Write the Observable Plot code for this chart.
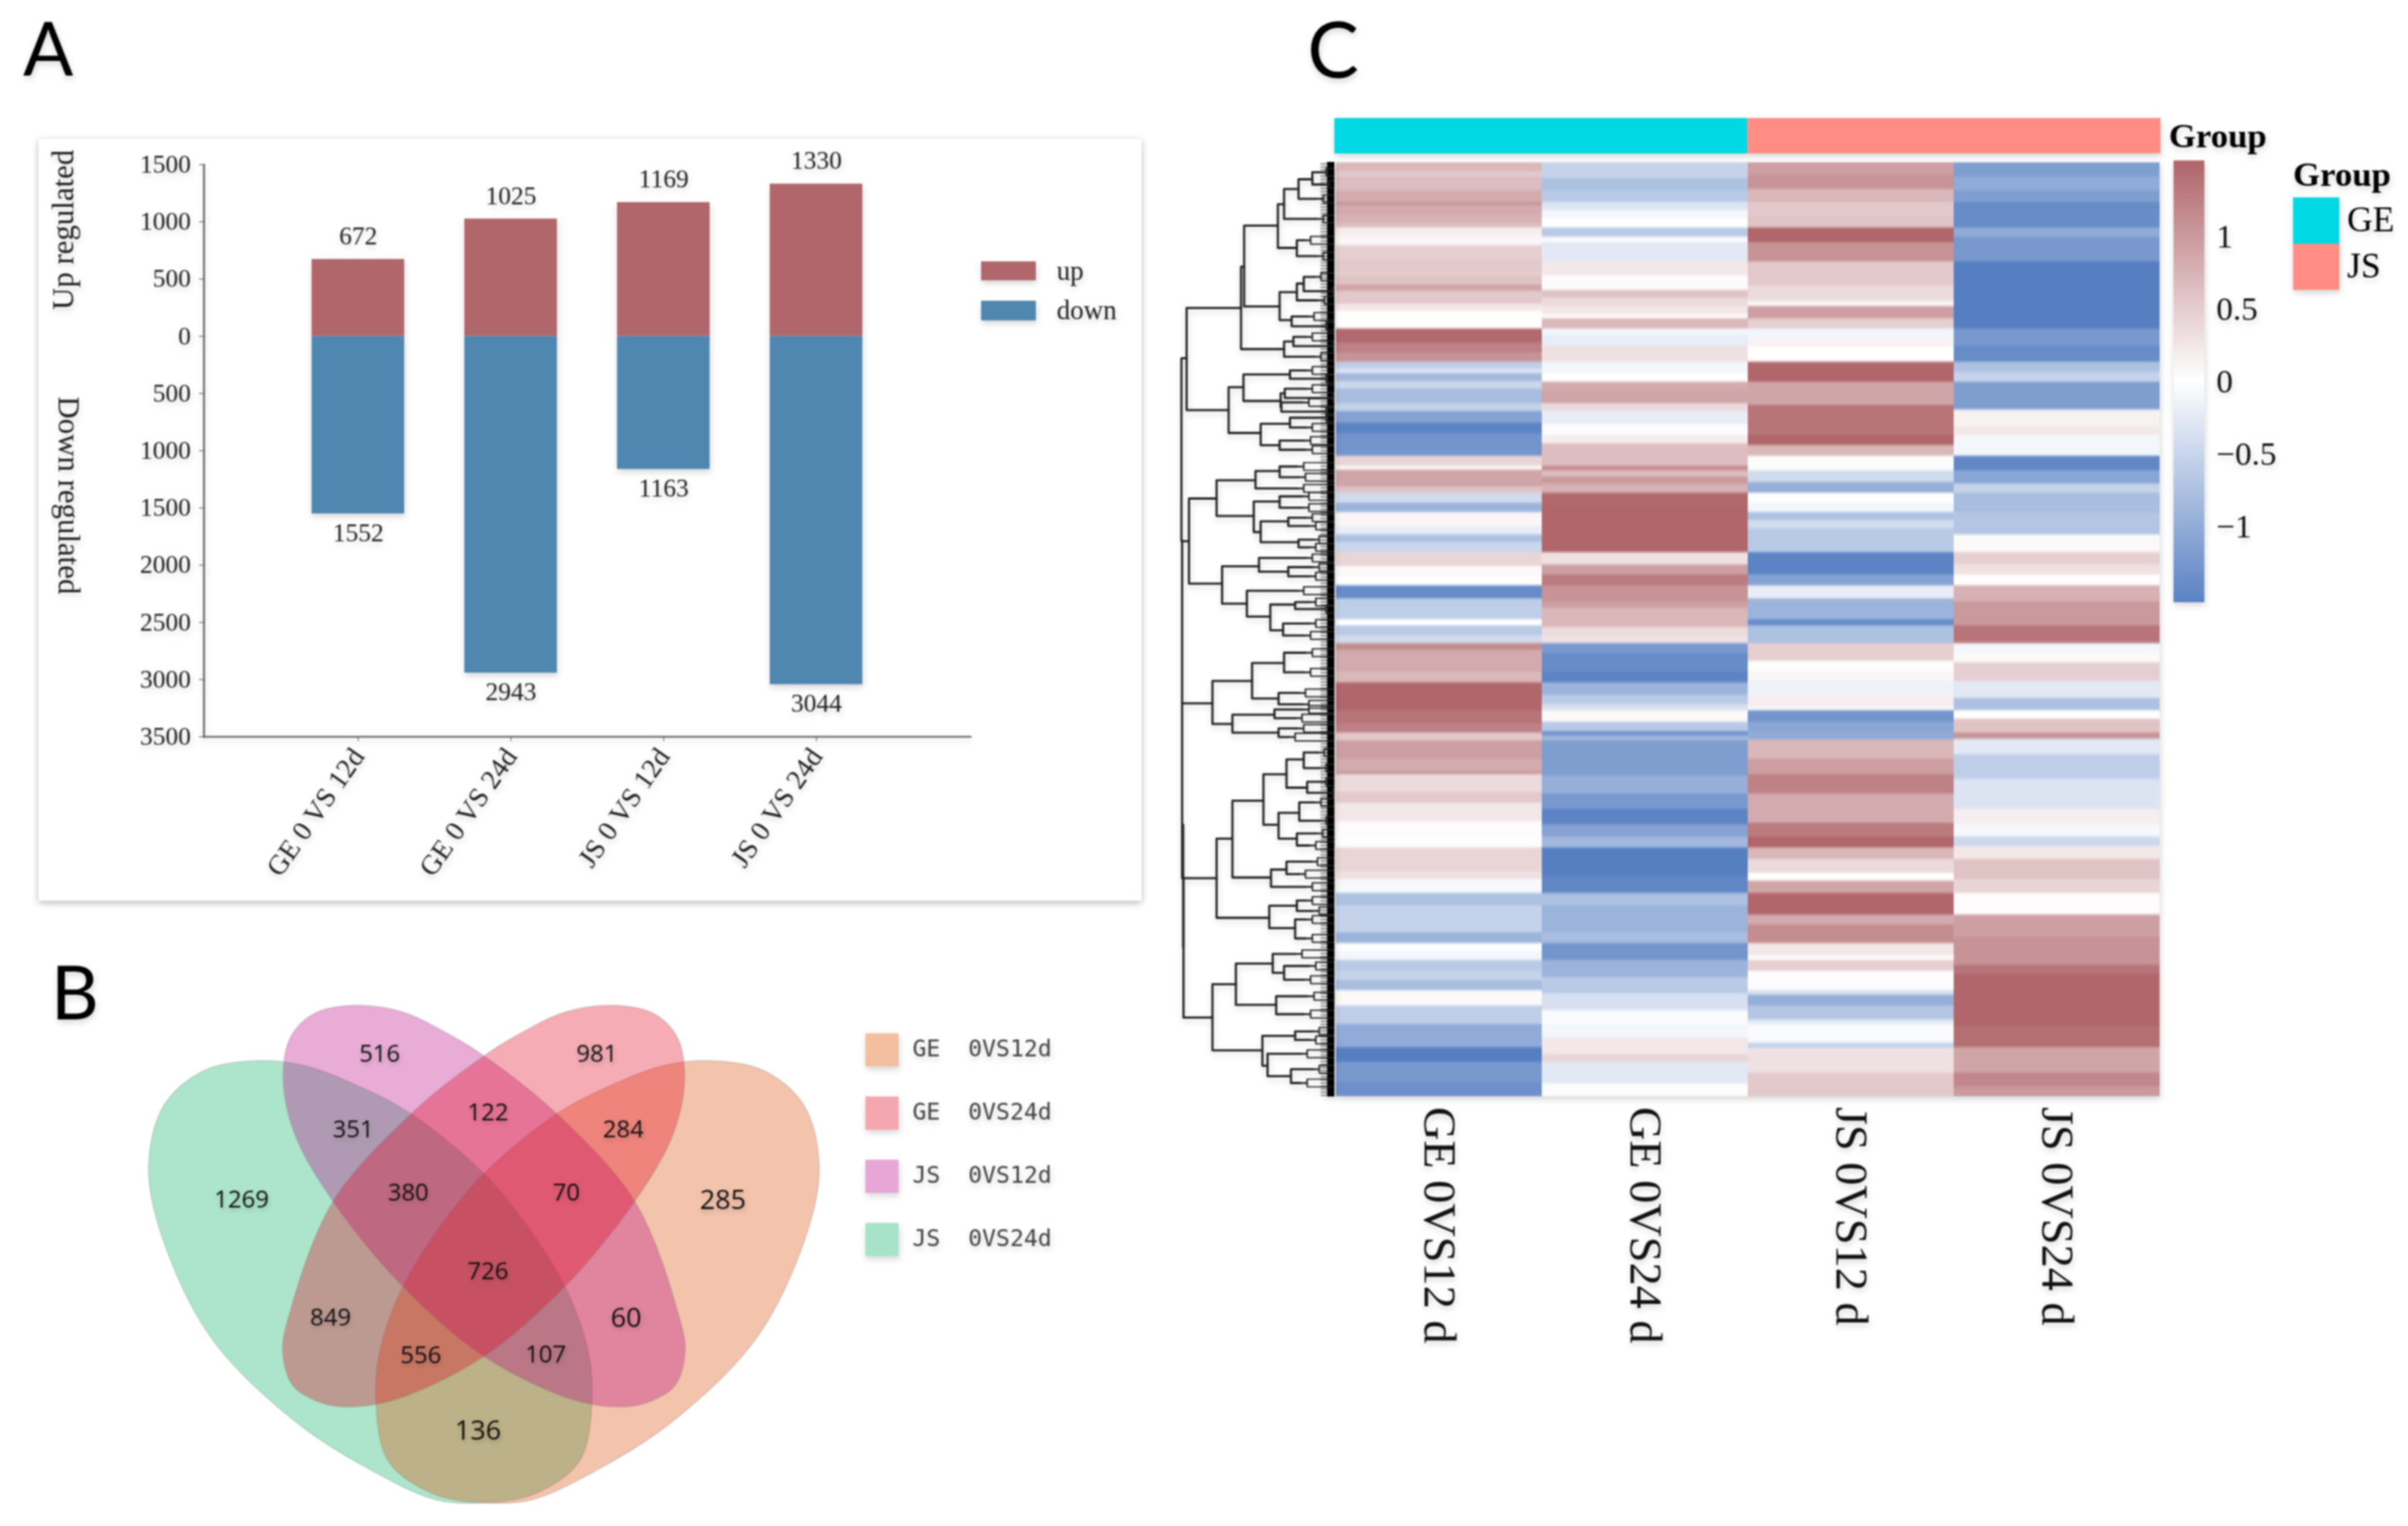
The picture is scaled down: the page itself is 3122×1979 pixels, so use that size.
<!DOCTYPE html>
<html><head><meta charset="utf-8">
<script src="https://cdn.jsdelivr.net/npm/d3@7"></script>
<script src="https://cdn.jsdelivr.net/npm/@observablehq/plot@0.6"></script>
<style>
html,body{margin:0;padding:0;background:#fff;}
#page{position:relative;width:3122px;height:1979px;overflow:hidden;filter:blur(1px);}
.p{position:absolute;filter:drop-shadow(1px 4px 4px rgba(0,0,0,.16));}
.p.venn{filter:none;}
.p.venn text{filter:drop-shadow(1px 3px 3px rgba(0,0,0,.2));}
.p.heat g[aria-label="bar"]{filter:url(#vblur);}
.p svg{display:block;max-width:none;overflow:visible;background:transparent;}
#card{position:absolute;left:50px;top:180px;width:1430px;height:988px;background:#fff;box-shadow:0 3px 9px rgba(0,0,0,.28);}
#overlay{position:absolute;left:0;top:0;filter:drop-shadow(1px 4px 4px rgba(0,0,0,.16));}
</style></head><body>
<svg width="0" height="0" style="position:absolute"><defs><filter id="vblur" color-interpolation-filters="sRGB" x="0" y="0" width="100%" height="100%"><feGaussianBlur stdDeviation="0 1.6" edgeMode="duplicate"/></filter></defs></svg>
<div id="page"><div id="card"></div></div>
<script>
const serif = "'Liberation Serif','Times New Roman',serif";
// ---------- Panel A ----------
const contrasts = ["GE 0 VS 12d","GE 0 VS 24d","JS 0 VS 12d","JS 0 VS 24d"];
const upCounts = [672,1025,1169,1330];
const downCounts = [1552,2943,1163,3044];
const yTicksA = [1500,1000,500,0,-500,-1000,-1500,-2000,-2500,-3000,-3500];
const colorUp = "#b0666b", colorDown = "#5087b0";

// ---------- Panel B ----------
const vennNames = ["GE  0VS12d","GE  0VS24d","JS  0VS12d","JS  0VS24d"];
const vennColors = ["#dd4800","#e2041a","#b80484","#04af62"];
const vennSwatches = ["#f3bf9f","#f5a7af","#e6a7d4","#a7e3c8"];
const vennCounts = [516,981,351,122,284,380,70,1269,285,726,849,60,556,107,136];
const vennCountX = [455,782,415,618,822,498,736,247,972,618,381,826,517,705,603];
const vennCountY = [302,302,505,460,505,675,675,693,695,885,1010,1010,1110,1108,1312];
const outerPetal = [[270,320],[345,335],[425,390],[500,460],[610,620],[680,770],[735,930],[765,1070],[775,1200],[757,1390],[690,1480],[610,1505],[540,1497],[450,1425],[330,1290],[200,1060],[125,780],[107,600],[130,440],[190,347]];
const innerPetal = [[415,172],[490,190],[560,250],[610,305],[720,460],[840,700],[905,1000],[915,1100],[900,1190],[860,1235],[815,1248],[740,1225],[610,1110],[490,925],[390,710],[330,530],[310,380],[320,260],[355,195]];

// ---------- Panel C : heat map runs, [end of run, shade] ----------
const heatColumns = ["GE 0VS12 d","GE 0VS24 d","JS 0VS12 d","JS 0VS24 d"];
const ge12Upper = [[55,.6],[70,.45],[115,.55],[150,.7],[160,.9],[190,.7],[215,.65],[230,.55],[255,.15],[285,.08],[330,.4],[370,.45],[380,.4],[408,.5],[428,.75],[470,.45],[490,.2],[545,0],[590,1.25],[620,1.05],[650,.9],[672,-.55],[685,-.3],[710,-.8],[735,-.45],[780,-.75],[805,-.5],[840,-1.05],[875,-1.4],[945,-1.2],[975,.35],[988,.05],[1040,.75],[1060,.5],[1090,-.4],[1120,-.85],[1165,.08],[1190,-.2],[1215,-.7],[1245,-.45],[1290,.35],[1320,.05],[1348,0],[1390,-1.3],[1455,-.55],[1475,0],[1505,-.6],[1530,-.4]];
const ge12Lower = [[60,.95],[130,.7],[165,.6],[255,1.35],[300,1.15],[330,1.05],[355,.45],[415,.8],[455,.7],[465,.85],[525,.3],[560,.45],[620,.2],[660,.03],[705,-.02],[785,.35],[810,.25],[855,-.08],[895,-.7],[985,-.5],[1020,-.85],[1045,0],[1075,-.1],[1110,-.6],[1140,-.5],[1175,-.75],[1225,.05],[1285,-.55],[1360,-.95],[1410,-1.45],[1475,-1.15],[1522,-1.25]];
const ge24Upper = [[75,-.5],[115,-.7],[150,-.6],[175,-.3],[200,-.1],[230,0],[260,-.6],[275,-.05],[335,-.25],[380,.2],[425,.03],[450,.5],[475,.3],[500,.2],[515,.05],[545,.6],[565,-.1],[600,-.2],[650,.25],[685,-.1],[712,0],[740,.7],[780,.75],[805,.3],[845,-.2],[880,-.03],[905,.15],[975,.55],[990,.95],[1010,.55],[1030,.85],[1060,.65],[1100,1.25],[1245,1.4],[1285,.25],[1315,.8],[1350,1.1],[1400,.9],[1420,.8],[1480,.6],[1505,.3],[1530,.25]];
const ge24Lower = [[70,-1.15],[130,-1.3],[165,-1.4],[205,-.85],[235,-.6],[255,-.35],[295,.05],[325,-.6],[340,-1.2],[355,-.8],[470,-1.1],[530,-.9],[580,-1.15],[630,-1.4],[670,-1.05],[705,-.8],[800,-1.45],[855,-1.35],[895,-.7],[985,-.85],[1020,-.75],[1075,-1.2],[1130,-.85],[1185,-.6],[1240,-.35],[1285,-.05],[1330,-.1],[1385,.2],[1410,.35],[1480,-.25],[1522,-.03]];
const js12Upper = [[65,.8],[110,.9],[150,.6],[195,.45],[230,.5],[275,1.3],[335,.9],[410,.45],[460,.3],[475,.08],[515,.8],[545,.4],[580,-.1],[605,.1],[650,0],[712,1.45],[785,.75],[880,1.15],[910,1.3],[945,.6],[990,.02],[1025,-.4],[1060,-.9],[1090,0],[1120,-.1],[1145,-.7],[1170,-.4],[1245,-.6],[1315,-1.4],[1350,-1.05],[1390,-.2],[1455,-.85],[1475,-1.3],[1530,-.7]];
const js12Lower = [[95,.4],[130,-.02],[160,.08],[205,-.15],[245,.15],[255,-.02],[295,-1.2],[325,-1],[352,-.95],[415,.6],[465,.8],[530,1.05],[625,.7],[670,1.1],[705,1.35],[745,.6],[790,.3],[815,0],[855,.75],[925,1.35],[960,.7],[1020,.95],[1060,.2],[1075,.03],[1110,.4],[1175,-.02],[1190,-.35],[1225,-.9],[1270,-.65],[1285,-.25],[1345,-.05],[1365,-.5],[1445,.25],[1522,.45]];
const js24Upper = [[70,-1.1],[115,-.95],[150,-1.1],[230,-1.3],[260,-.95],[335,-1.15],[545,-1.45],[600,-1.15],[650,-1.3],[680,-.7],[712,-.5],[800,-1.1],[855,.12],[880,.2],[945,-.1],[990,-1.35],[1030,-1],[1060,-.5],[1120,-.75],[1190,-.65],[1245,.05],[1285,.4],[1315,.25],[1348,0],[1400,.65],[1475,.85],[1530,1.15]];
const js24Lower = [[70,-.1],[100,.05],[160,.4],[215,-.25],[255,-.7],[285,0],[330,.5],[350,.9],[400,-.25],[480,-.55],[580,-.3],[630,.15],[670,-.08],[700,-.45],[745,.2],[810,.5],[855,.35],[925,.03],[1000,.8],[1090,.9],[1120,1.15],[1290,1.4],[1360,1.2],[1445,.75],[1490,1],[1522,.85]];
const heatRuns = [[ge12Upper,ge12Lower],[ge24Upper,ge24Lower],[js12Upper,js12Lower],[js24Upper,js24Lower]];
const groupNames = ["GE","JS"];
const groupColors = ["#00d9e3","#ff8d85"];
const colorbarTicks = [1,.5,0,-.5,-1];
const heatColors = ["#5d84c4","#ffffff","#b0666b"];

// ---------- Panel C : dendrogram brackets [height, row1, row2, child height 1, child height 2] ----------
const dendroUpper = [[70,845,1445,85,92],[85,680,1015,243,207],[243,545,815,252,368],[252,410,675,350,355],[350,340,483,368,405],[368,290,388,410,462],[410,258,322,450,462],[450,235,275,470,480],[405,458,510,425,462],[355,628,720,405,390],[405,600,655,425,465],[425,578,625,455,490],[390,708,740,435,470],[368,790,840,395,455],[395,775,805,430,490],[207,940,1090,250,300],[250,898,985,385,358],[385,885,912,430,470],[358,960,1005,370,360],[370,945,975,430,490],[360,990,1020,420,470],[300,1060,1130,385,355],[385,1040,1072,470,430],[355,1115,1145,425,430],[92,1305,1584,172,188],[172,1245,1362,285,280],[285,1215,1272,355,405],[355,1200,1235,405,410],[280,1315,1415,355,300],[355,1298,1335,420,420],[300,1380,1448,380,410],[380,1368,1395,430,440],[410,1440,1465,450,440],[188,1527,1650,295,260],[295,1500,1545,430,380],[380,1530,1560,450,440]];
const dendroLower = [[72,-110,362,72,160],[72,362,870,72,172],[76,870,1275,78,160],[75,715,1070,75,75],[260,35,110,405,328],[328,75,150,400,365],[365,130,165,440,425],[400,68,88,440,470],[160,297,422,275,218],[275,245,348,368,352],[368,215,272,430,425],[352,332,365,410,420],[218,395,447,340,352],[340,380,405,420,400],[352,435,460,405,380],[172,755,985,218,325],[218,645,868,308,330],[308,568,715,375,352],[375,525,607,425,435],[352,680,755,412,405],[412,650,703,455,470],[405,740,775,460,440],[425,505,550,465,470],[435,590,622,470,490],[330,845,895,375,430],[375,822,858,445,410],[325,950,1015,405,400],[405,935,965,430,450],[400,990,1045,430,430],[160,1178,1370,228,305],[228,1118,1238,335,345],[335,1090,1145,400,368],[368,1125,1165,440,425],[345,1213,1265,435,425],[305,1328,1415,400,320],[320,1380,1445,415,388],[388,1425,1465,450,415],[400,1315,1340,450,440]];

// ---------- helpers ----------
const page = document.getElementById("page");
function place(node,left,top,cls=""){const d=document.createElement("div");d.className="p "+cls;d.style.left=left+"px";d.style.top=top+"px";d.appendChild(node);page.appendChild(d);}

// ---------- draw A ----------
const barRows = contrasts.flatMap((c,i)=>[{c,dir:"up",v:upCounts[i]},{c,dir:"down",v:-downCounts[i]}]);
place(Plot.plot({
  width:1430,height:988,marginLeft:214,marginRight:222,marginTop:33,marginBottom:213,
  style:{fontFamily:serif,color:"#222",background:"transparent"},
  x:{type:"band",domain:contrasts,paddingInner:.395,paddingOuter:.7,label:null},
  y:{domain:[-3500,1500],label:null},
  color:{domain:["up","down"],range:[colorUp,colorDown]},
  marks:[
    Plot.barY(barRows,{x:"c",y1:0,y2:"v",fill:"dir"}),
    Plot.frame({anchor:"left",stroke:"#555",strokeWidth:2.2}),
    Plot.frame({anchor:"bottom",stroke:"#555",strokeWidth:2.2}),
    Plot.axisY({ticks:yTicksA,tickFormat:d=>String(Math.abs(d)),tickSize:6,tickPadding:11,fontSize:33,label:null,stroke:"#555"}),
    Plot.axisX({tickRotate:-55,tickSize:6,tickPadding:13,fontSize:36,label:null,stroke:"#555"}),
    Plot.text(barRows.filter(d=>d.dir=="up"),{x:"c",y:"v",text:d=>String(d.v),dy:-30,fontSize:33,fill:"#222"}),
    Plot.text(barRows.filter(d=>d.dir=="down"),{x:"c",y:"v",text:d=>String(-d.v),dy:25,fontSize:33,fill:"#222"}),
    Plot.text(["Up regulated"],{text:d=>d,frameAnchor:"left",textAnchor:"middle",y:[930],dx:-182,rotate:-90,fontSize:40,fill:"#222"}),
    Plot.text(["Down regulated"],{text:d=>d,frameAnchor:"left",textAnchor:"middle",y:[-1390],dx:-176,rotate:90,fontSize:40,fill:"#222"})
  ]
}),50,180);

// ---------- draw B ----------
const mirror = p=>p.map(([x,y])=>[1224-x,y]);
const shapes = [
  {pts:outerPetal,color:vennColors[3]},
  {pts:mirror(outerPetal),color:vennColors[0]},
  {pts:innerPetal,color:vennColors[2]},
  {pts:mirror(innerPetal),color:vennColors[1]}
];
const vennTable = vennCounts.map((n,i)=>({n,x:vennCountX[i],y:vennCountY[i]}));
const bigVenn = new Set([285,136,60]);
place(Plot.plot({
  width:1350,height:759,margin:0,
  style:{fontFamily:"'Open Sans','Noto Sans',sans-serif",background:"transparent"},
  x:{domain:[0,1568],range:[0,1350],axis:null},
  y:{domain:[0,1568],range:[0,759],axis:null},
  marks:[
    ...shapes.map(s=>Plot.line(s.pts,{x:d=>d[0],y:d=>d[1],curve:"catmull-rom-closed",fill:s.color,fillOpacity:.33,stroke:"#777",strokeOpacity:.25,strokeWidth:1.5})),
    Plot.text(vennTable.filter(d=>!bigVenn.has(d.n)),{x:"x",y:"y",text:d=>String(d.n),fontSize:31,fill:"#111"}),
    Plot.text(vennTable.filter(d=>bigVenn.has(d.n)),{x:"x",y:"y",text:d=>String(d.n),fontSize:35,fill:"#111"})
  ]
}),100,1220,"venn");

// ---------- draw C : annotation bar ----------
place(Plot.plot({
  width:1071,height:46,margin:0,
  x:{domain:[0,4],axis:null},y:{axis:null,domain:[0,1]},
  color:{domain:groupNames,range:groupColors},
  style:{background:"transparent"},
  marks:[Plot.rect(groupNames.map((g,i)=>({g,a:i*2,b:i*2+2})),{x1:"a",x2:"b",y1:0,y2:1,fill:"g"})]
}),1730,153);

// ---------- draw C : heat map ----------
// the runs were read on two stretches of the map, so each stretch has its own row unit
const upperRow = r=>(r-25)*0.4146, lowerRow = r=>624+(r-36)*0.3954;
// shades were read a little pale against the colour bar; this brings them onto its z-score
const toZ = v=>v>0?Math.min(1.5,v*1.18):v*1.08;
const cells = heatColumns.flatMap((col,k)=>{
  const [up,lo]=heatRuns[k]; const out=[]; let s=25;
  for(const [e,v] of up){out.push({col,y1:upperRow(s),y2:upperRow(e),v:toZ(v)});s=e;}
  s=36;
  for(const [e,v] of lo){out.push({col,y1:lowerRow(s),y2:lowerRow(e),v:toZ(v)});s=e;}
  return out;
});
place(Plot.plot({
  width:1071,height:1552,marginLeft:0,marginRight:0,marginTop:0,marginBottom:340,
  style:{fontFamily:serif,background:"transparent",color:"#111"},
  x:{domain:heatColumns,padding:0,label:null},
  y:{domain:[0,1212],reverse:true,axis:null},
  color:{type:"linear",domain:[-1.5,0,1.5],range:heatColors},
  marks:[
    Plot.barY(cells,{x:"col",y1:"y1",y2:"y2",fill:"v",shapeRendering:"crispEdges"}),
    Plot.axisX({anchor:"bottom",tickRotate:90,tickSize:0,tickPadding:13,fontSize:60,label:null})
  ]
}),1730,210,"heat");

// ---------- draw C : colour bar ----------
const stops = d3.range(-152,152,2).map(d=>d/100);
place(Plot.plot({
  width:240,height:570,marginLeft:0,marginRight:200,marginTop:0,marginBottom:0,
  style:{fontFamily:serif,background:"transparent",color:"#111"},
  x:{domain:[0,1],axis:null},
  y:{domain:[-1.515,1.515],label:null},
  color:{type:"linear",domain:[-1.5,0,1.5],range:heatColors},
  marks:[
    Plot.rect(stops,{x1:0,x2:1,y1:d=>d,y2:d=>d+.025,fill:d=>d}),
    Plot.axisY({anchor:"right",ticks:colorbarTicks,tickSize:0,tickPadding:15,fontSize:43,label:null,tickFormat:d=>d3.format("~g")(d)})
  ]
}),2818,210);

// ---------- draw C : dendrogram ----------
const toRowU = y=>130+y/2.529, toRowL = y=>750+y/2.24;
const brackets = [...dendroUpper.map(b=>({x:b[0],a:toRowU(b[1]),b:toRowU(b[2]),xa:b[3],xb:b[4]})),
                  ...dendroLower.map(b=>({x:b[0],a:toRowL(b[1]),b:toRowL(b[2]),xa:b[3],xb:b[4]}))];
const paths = brackets.flatMap((b,i)=>[
  {id:i,x:b.xa,y:b.a},{id:i,x:b.x,y:b.a},{id:i,x:b.x,y:b.b},{id:i,x:b.xb,y:b.b}]);
const isInner=(x,y)=>brackets.some(q=>Math.abs(q.x-x)<9&&q.a-5<=y&&y<=q.b+5);
const tips = brackets.flatMap(b=>[[b.xa,b.a],[b.xb,b.b]]).filter(([x,y])=>!isInner(x,y));
const leafRows = d3.range(212,1422,4);
const twigPad = 5;
place(Plot.plot({
  width:230,height:1979,margin:0,
  style:{background:"transparent"},
  x:{domain:[0,515],range:[0,230],axis:null},
  y:{domain:[0,1979],range:[0,1979],axis:null},
  marks:[
    Plot.ruleY(leafRows,{x1:475,x2:515,stroke:"#111",strokeOpacity:.65,strokeWidth:1.4}),
    Plot.rect([0],{x1:494,x2:515,y1:210,y2:1422,fill:"#000"}),
    Plot.ruleY(tips,{y:d=>d[1],x1:d=>d[0],x2:d=>d[0]+20,stroke:"#222",strokeWidth:2.4}),
    Plot.ruleX(tips,{x:d=>d[0]+20,y1:d=>d[1]-twigPad,y2:d=>d[1]+twigPad,stroke:"#222",strokeWidth:2}),
    Plot.ruleY(tips,{y:d=>d[1]-twigPad,x1:d=>d[0]+20,x2:515,stroke:"#222",strokeWidth:1.7}),
    Plot.ruleY(tips,{y:d=>d[1]+twigPad,x1:d=>d[0]+20,x2:515,stroke:"#222",strokeWidth:1.7}),
    Plot.line(paths,{x:"x",y:"y",z:"id",stroke:"#222",strokeWidth:2.8,curve:"linear"})
  ]
}),1500,0);

// ---------- overlay: panel letters and legends ----------
const sans="Lato,'Noto Sans',sans-serif";
const rects=[], texts=[];
const T=(s,x,y,size,fam,extra="")=>texts.push(`<text x="${x}" y="${y}" font-size="${size}" font-family="${fam}" ${extra}>${s}</text>`);
const R=(x,y,w,h,c)=>rects.push(`<rect x="${x}" y="${y}" width="${w}" height="${h}" fill="${c}"/>`);
T("A",30,98,96,sans); T("B",66,1322,96,sans); T("C",1695,101,100,sans);
R(1272,339,71,24.5,colorUp); R(1272,390,71,25.5,colorDown);
T("up",1370,363,35,serif,'fill="#222"'); T("down",1370,414,35,serif,'fill="#222"');
[0,1,2,3].forEach(i=>{const y=[1340,1422,1504,1586][i];
  R(1122,y,43,43,vennSwatches[i]);
  T(vennNames[i],1183,y+30,30,"'DejaVu Sans Mono',monospace",'fill="#444" xml:space="preserve"');
});
T("Group",2812,191,45,serif,'font-weight="bold"');
T("Group",2973,241,45,serif,'font-weight="bold"');
R(2973,256,60,60,groupColors[0]); R(2973,316,60,60,groupColors[1]);
T(groupNames[0],3043,300,46,serif); T(groupNames[1],3043,360,46,serif);
const ov=document.createElement("div"); ov.id="overlay";
ov.innerHTML=`<svg width="3122" height="1979" style="display:block">${rects.join("")}${texts.join("")}</svg>`;
page.appendChild(ov);
</script></body></html>
